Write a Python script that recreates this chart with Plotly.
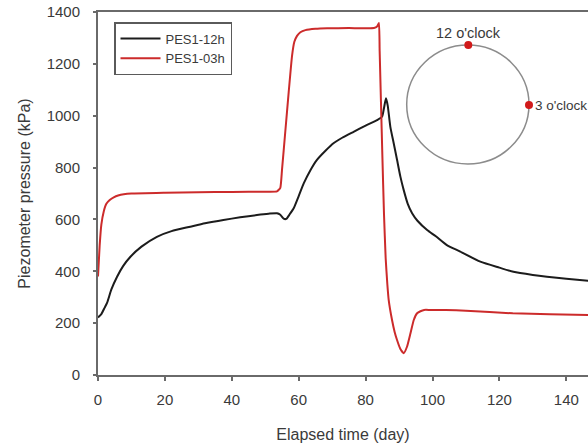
import plotly.graph_objects as go

# ---------------- data ----------------
days_12h = [0, 1, 2, 2.7, 4, 5.7, 7.5, 9.7, 13, 17.6, 22, 27.6, 32, 37.5, 42.5, 47.5,
            51, 53.5, 54.5, 55.5, 56.3, 57.3, 58.5, 60, 61.5, 63.5, 65.4, 68, 70.4, 73,
            76.4, 80, 83.4, 84.9, 85.5, 86.1, 86.6, 87.4, 88.4, 89.4, 90.4, 91.4, 92.6,
            93.9, 95.5, 98.4, 101, 104.3, 108.3, 114.3, 120, 124.2, 130, 134.2, 140, 146.6]
pres_12h = [222, 235, 260, 278, 330, 379, 420, 456, 495, 533, 555, 572, 585, 598, 608, 617,
            622, 624, 618, 603, 602, 620, 643, 690, 739, 790, 829, 865, 894, 915,
            938, 962, 983, 996, 1030, 1067, 1040, 957, 894, 830, 765, 713, 660,
            624, 595, 559, 535, 501, 476, 437, 414, 398, 386, 379, 371, 363]

days_03h = [0, 0.5, 1, 1.7, 2.5, 3.5, 4.7, 6, 7.7, 10, 20, 30, 40, 50, 53.5, 54.5, 55,
            56, 57, 58, 58.7, 59.5, 60.5, 62, 65, 68.5, 75, 82.5, 83.5, 84.0, 84.2,
            84.6, 85.0, 85.5, 86.0, 86.5, 86.9, 87.9, 88.7, 89.4, 90.4, 91.4, 92.4, 93.4,
            94.4, 95.4, 96.4, 97.5, 99.3, 104, 110, 124, 135, 146.6]
pres_03h = [380, 500, 580, 630, 660, 675, 685, 692, 697, 700, 703, 705, 706, 707, 708, 722, 790,
            940, 1090, 1230, 1285, 1308, 1322, 1330, 1335, 1337, 1338, 1338, 1345, 1358, 1250,
            1050, 850, 620, 450, 350, 290, 212, 165, 135, 100, 84, 110, 160,
            212, 238, 246, 251, 251, 251, 248, 238, 234, 231]

x_ticks = [0, 20, 40, 60, 80, 100, 120, 140]
y_ticks = [0, 200, 400, 600, 800, 1000, 1200, 1400]

series_names = ["PES1-12h", "PES1-03h"]
series_colors = ["#1c1c1c", "#cc2b2b"]

# ---------------- figure ----------------
W, H = 588, 443
ML, MR, MT, MB = 98, 0, 12, 68
PW, PH = W - ML - MR, H - MT - MB

def px(xp):
    return (xp - ML) / PW

def py(yp):
    return (H - MB - yp) / PH

fig = go.Figure()
fig.add_trace(go.Scatter(x=days_12h, y=pres_12h, mode="lines", name=series_names[0],
                         line=dict(color=series_colors[0], width=2, shape="spline", smoothing=0.6)))
fig.add_trace(go.Scatter(x=days_03h, y=pres_03h, mode="lines", name=series_names[1],
                         line=dict(color=series_colors[1], width=2, shape="spline", smoothing=0.4)))

font_fam = "Liberation Sans, Arial, sans-serif"
axis_col = "#6a6a6a"
txt_col = "#3a3a3a"

fig.update_layout(
    width=W, height=H,
    margin=dict(l=ML, r=MR, t=MT, b=MB),
    paper_bgcolor="white", plot_bgcolor="white",
    font=dict(family=font_fam, color=txt_col),
    showlegend=True,
    legend=dict(x=px(114), y=py(22), xanchor="left", yanchor="top",
                bordercolor="#5a5a5a", borderwidth=1.5, bgcolor="white",
                font=dict(size=13, color=txt_col), tracegroupgap=0, itemwidth=40),
    xaxis=dict(range=[0, PW / 3.345], tickvals=x_ticks, showgrid=False, zeroline=False,
               showline=True, linecolor=axis_col, linewidth=2, mirror=True,
               ticks="outside", ticklen=4, tickwidth=1.5, tickcolor=axis_col,
               tickfont=dict(size=15, color=txt_col), ticklabelstandoff=6,
               title=dict(text="Elapsed time (day)", font=dict(size=16, color=txt_col), standoff=23)),
    yaxis=dict(range=[0, 1400], tickvals=y_ticks, showgrid=False, zeroline=False,
               showline=True, linecolor=axis_col, linewidth=2, mirror=False,
               ticks="outside", ticklen=3, tickwidth=1.5, tickcolor=axis_col,
               tickfont=dict(size=15, color=txt_col), ticklabelstandoff=10,
               title=dict(text="Piezometer pressure (kPa)", font=dict(size=16, color=txt_col), standoff=12)),
)

# inset: circle with two piezometer positions
fig.add_shape(type="circle", xref="paper", yref="paper",
              x0=px(406.7), x1=px(529), y0=py(164), y1=py(45),
              line=dict(color="#8c8c8c", width=1.5))
for (cx, cy) in [(468.3, 45), (529, 105)]:
    fig.add_shape(type="circle", xref="paper", yref="paper",
                  xsizemode="pixel", ysizemode="pixel",
                  xanchor=px(cx), yanchor=py(cy), x0=-4, x1=4, y0=-4, y1=4,
                  fillcolor="#d11a1a", line=dict(color="#d11a1a", width=0))
fig.add_annotation(xref="paper", yref="paper", x=px(468), y=py(33), text="12 o'clock",
                   showarrow=False, xanchor="center", yanchor="middle",
                   font=dict(size=14.5, color=txt_col))
fig.add_annotation(xref="paper", yref="paper", x=px(533), y=py(105), text="3 o'clock",
                   showarrow=False, xanchor="left", yanchor="middle",
                   font=dict(size=13.5, color=txt_col))

fig.write_html("out.html")
